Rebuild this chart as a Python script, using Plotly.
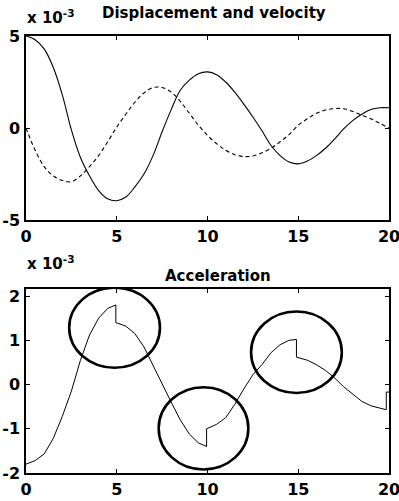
import plotly.graph_objects as go

# ---------------- data ----------------
t = [0, 0.5, 1, 1.5, 2, 2.5, 3, 3.5, 4, 4.5, 5, 5.5, 6, 6.5, 7, 7.5, 8, 8.5, 9, 9.5,
     10, 10.5, 11, 11.5, 12, 12.5, 13, 13.5, 14, 14.5, 15, 15.5, 16, 16.5, 17, 17.5,
     18, 18.5, 19, 19.5, 20]
displacement = [5.0, 4.8, 4.3, 3.3, 1.8, -0.1, -1.6, -2.6, -3.4, -3.85, -3.95, -3.75,
                -3.2, -2.5, -1.5, -0.2, 1.0, 2.05, 2.6, 2.95, 3.05, 2.9, 2.5, 1.95, 1.3,
                0.6, -0.15, -0.95, -1.5, -1.85, -1.95, -1.8, -1.5, -1.1, -0.6, -0.05,
                0.4, 0.75, 1.0, 1.1, 1.1]
velocity = [0.0, -1.2, -2.1, -2.6, -2.85, -2.92, -2.6, -2.1, -1.5, -0.75, 0.05, 0.75,
            1.4, 1.9, 2.2, 2.2, 1.95, 1.45, 0.8, 0.15, -0.4, -0.85, -1.2, -1.45, -1.55,
            -1.52, -1.35, -1.1, -0.75, -0.35, 0.15, 0.5, 0.8, 0.98, 1.05, 1.05, 0.9,
            0.7, 0.5, 0.25, 0.0]

t_acc = [0, 0.5, 1, 1.5, 2, 2.5, 3, 3.5, 4, 4.5, 4.95, 4.95, 5.5, 6, 6.5, 7, 7.5, 8,
         8.5, 9, 9.5, 9.95, 9.95, 10.5, 11, 11.5, 12, 12.5, 13, 13.5, 14, 14.5, 14.9,
         14.9, 15.5, 16, 16.5, 17, 17.5, 18, 18.5, 19, 19.5, 19.85, 19.85, 20]
acceleration = [-1.8, -1.72, -1.57, -1.22, -0.72, -0.15, 0.55, 1.12, 1.5, 1.72, 1.8,
                1.4, 1.32, 1.15, 0.85, 0.43, 0.0, -0.4, -0.8, -1.12, -1.32, -1.4, -1.0,
                -0.9, -0.75, -0.45, -0.1, 0.22, 0.45, 0.72, 0.9, 1.0, 1.02, 0.62, 0.55,
                0.45, 0.32, 0.15, -0.05, -0.22, -0.38, -0.48, -0.54, -0.57, -0.17, -0.17]

# circles highlighting the jumps: (x0, x1, y0, y1) in data units
circle_x0 = [2.38, 7.31, 12.4]
circle_x1 = [7.38, 12.25, 17.4]
circle_y0 = [0.38, -1.92, -0.19]
circle_y1 = [2.19, -0.06, 1.65]

x_ticks = [0, 5, 10, 15, 20]
x_ticklabels = ["0", "5", "10", "15", "20"]
y1_ticks = [-5, 0, 5]
y1_ticklabels = ["-5", "0", "5"]
y2_ticks = [-2, -1, 0, 1, 2]
y2_ticklabels = ["-2", "-1", "0", "1", "2"]

# ---------------- figure ----------------
W, H = 399, 501
ML, MR, MT, MB = 26, 10, 36, 28
plot_h = H - MT - MB
plot_w = W - ML - MR


def py(p):
    """pixel y (from top) -> paper y"""
    return (H - MB - p) / plot_h


def px(p):
    return (p - ML) / plot_w


FONT = "DejaVu Sans"

fig = go.Figure()
fig.add_trace(go.Scatter(x=t, y=displacement, mode="lines",
                         line=dict(color="black", width=1.1, shape="spline"),
                         xaxis="x", yaxis="y", showlegend=False, hoverinfo="skip"))
fig.add_trace(go.Scatter(x=t, y=velocity, mode="lines",
                         line=dict(color="black", width=1.1, dash="4px,3px", shape="spline"),
                         xaxis="x", yaxis="y", showlegend=False, hoverinfo="skip"))
fig.add_trace(go.Scatter(x=t_acc, y=acceleration, mode="lines",
                         line=dict(color="black", width=1.0),
                         xaxis="x2", yaxis="y2", showlegend=False, hoverinfo="skip"))

for x0, x1, y0, y1 in zip(circle_x0, circle_x1, circle_y0, circle_y1):
    fig.add_shape(type="circle", xref="x2", yref="y2", x0=x0, x1=x1, y0=y0, y1=y1,
                  line=dict(color="black", width=2.6))

axis_common = dict(showline=True, linecolor="black", linewidth=1.5, mirror="ticks",
                   ticks="inside", ticklen=4, tickcolor="black", tickwidth=1,
                   showgrid=False, zeroline=False, automargin=False,
                   ticklabeloverflow="allow", tickmode="array",
                   tickfont=dict(family=FONT, size=16, color="black", weight="bold"))

fig.update_layout(
    width=W, height=H,
    margin=dict(l=ML, r=MR, t=MT, b=MB),
    paper_bgcolor="white", plot_bgcolor="white",
    xaxis=dict(domain=[0, 1], range=[0, 20], tickvals=x_ticks, ticktext=x_ticklabels,
               anchor="y", ticklabelstandoff=1, **axis_common),
    yaxis=dict(domain=[py(220), 1], range=[-5, 5], tickvals=y1_ticks,
               ticktext=y1_ticklabels, anchor="x", ticklabelstandoff=1, **axis_common),
    xaxis2=dict(domain=[0, 1], range=[0, 20], tickvals=x_ticks, ticktext=x_ticklabels,
                anchor="y2", ticklabelstandoff=1, **axis_common),
    yaxis2=dict(domain=[0, py(289)], range=[-2, 2.16], tickvals=y2_ticks,
                ticktext=y2_ticklabels, anchor="x2", ticklabelstandoff=1, **axis_common),
)

fig.add_annotation(text="Displacement and velocity", xref="paper", yref="paper",
                   x=px(214), y=py(13), xanchor="center", yanchor="middle",
                   showarrow=False,
                   font=dict(family=FONT, size=15, color="black", weight="bold"))
fig.add_annotation(text="Acceleration", xref="paper", yref="paper",
                   x=px(218), y=py(276), xanchor="center", yanchor="middle",
                   showarrow=False,
                   font=dict(family=FONT, size=15, color="black", weight="bold"))
fig.add_annotation(text="x 10<sup>-3</sup>", xref="paper", yref="paper",
                   x=px(25), y=py(17), xanchor="left", yanchor="middle",
                   showarrow=False,
                   font=dict(family=FONT, size=15, color="black", weight="bold"))
fig.add_annotation(text="x 10<sup>-3</sup>", xref="paper", yref="paper",
                   x=px(25), y=py(263), xanchor="left", yanchor="middle",
                   showarrow=False,
                   font=dict(family=FONT, size=15, color="black", weight="bold"))

fig.write_html("out.html", config={"displayModeBar": False},
               post_script="document.body.style.margin='0';")
